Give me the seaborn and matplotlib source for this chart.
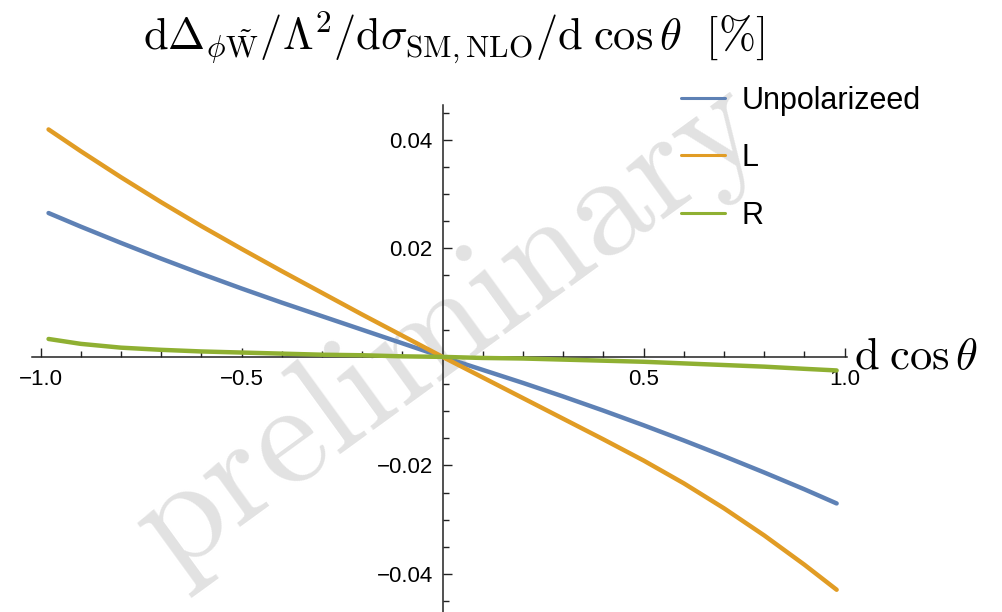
import numpy as np
import pandas as pd
import seaborn as sns
import matplotlib.pyplot as plt
from matplotlib.lines import Line2D
from matplotlib.ticker import FixedLocator, MultipleLocator

# values
cos_theta = [-0.98, -0.9, -0.8, -0.7, -0.6, -0.5, -0.4, -0.3, -0.2, -0.1, 0.0,
             0.1, 0.2, 0.3, 0.4, 0.5, 0.6, 0.7, 0.8, 0.9, 0.98]
unpolarized = [0.0265, 0.0240, 0.0210, 0.0181, 0.0153, 0.0126, 0.0100, 0.0075, 0.0050, 0.0025, 0.0,
               -0.0024, -0.0048, -0.0073, -0.0099, -0.0126, -0.0154, -0.0183, -0.0213, -0.0244, -0.0270]
pol_L = [0.0419, 0.0379, 0.0331, 0.0285, 0.0241, 0.0199, 0.0158, 0.0118, 0.0078, 0.0039, 0.0,
         -0.0038, -0.0076, -0.0114, -0.0152, -0.0191, -0.0233, -0.0279, -0.0329, -0.0383, -0.0429]
pol_R = [0.0033, 0.0024, 0.0017, 0.0013, 0.0010, 0.0008, 0.0006, 0.0004, 0.0003, 0.0001, 0.0,
         -0.0002, -0.0003, -0.0005, -0.0007, -0.0009, -0.0012, -0.0015, -0.0018, -0.0022, -0.0025]

series = ["Unpolarizeed", "L", "R"]
colors = {"Unpolarizeed": "#5E81B5", "L": "#E19C24", "R": "#8FB032"}

x_ticks = [-1.0, -0.5, 0.5, 1.0]
x_ticklabels = ["\u22121.0", "\u22120.5", "0.5", "1.0"]
y_ticks = [-0.04, -0.02, 0.02, 0.04]
y_ticklabels = ["\u22120.04", "\u22120.02", "0.02", "0.04"]

df = pd.DataFrame({
    "cos": cos_theta * 3,
    "val": unpolarized + pol_L + pol_R,
    "pol": [s for s in series for _ in cos_theta],
})

sns.set_theme(style="white")
plt.rcParams['font.family'] = ['Liberation Sans', 'DejaVu Sans']
plt.rcParams['mathtext.fontset'] = 'cm'
plt.rcParams['text.color'] = 'black'
plt.rcParams['xtick.labelcolor'] = 'black'
plt.rcParams['ytick.labelcolor'] = 'black'

fig = plt.figure(figsize=(10.02, 6.12), dpi=100)
ax = fig.add_axes([0.0316, 0.0, 0.8134, 0.8284])
ax.patch.set_alpha(0)

sns.lineplot(data=df, x="cos", y="val", hue="pol", hue_order=series, palette=colors,
             linewidth=3.2, legend=False, ax=ax, zorder=3)

ax.set_xlim(-1.022, 1.005)
ax.set_ylim(-0.047, 0.0464)

for side in ["top", "right"]:
    ax.spines[side].set_visible(False)
ax.spines["left"].set_position(("data", 0))
ax.spines["bottom"].set_position(("data", 0))
for side in ["left", "bottom"]:
    ax.spines[side].set_color("#222222")
    ax.spines[side].set_linewidth(1.1)

ax.xaxis.set_major_locator(FixedLocator(x_ticks))
ax.xaxis.set_minor_locator(MultipleLocator(0.1))
ax.set_xticklabels(x_ticklabels)
ax.yaxis.set_major_locator(FixedLocator(y_ticks))
ax.yaxis.set_minor_locator(MultipleLocator(0.005))
ax.set_yticklabels(y_ticklabels)
ax.tick_params(which="both", direction="in", color="#222222", width=1.0,
               bottom=True, left=True, labelsize=16)
ax.tick_params(which="major", length=6.5)
ax.tick_params(which="minor", length=4)
ax.tick_params(axis="x", pad=9)
ax.tick_params(axis="y", pad=7)
ax.set_xlabel("")
ax.set_ylabel("")

# watermark
ax.text(0.448, 0.46, r"$\mathrm{preliminary}$", transform=fig.transFigure, fontsize=106,
        color="#e2e2e2", rotation=36, ha="center", va="center", zorder=1, clip_on=False)

fig.text(0.453, 1 - 37 / 612,
         r"$\mathrm{d}\Delta_{\phi\tilde{\mathrm{W}}}/\Lambda^2/\mathrm{d}\sigma_{\mathrm{SM,NLO}}/\mathrm{d}\;\cos\theta\ \ [\%]$",
         fontsize=32, ha="center", va="center")
fig.text(0.852, 1 - 357 / 612, r"$\mathrm{d}\;\cos\theta$", fontsize=32, ha="left", va="center")

handles = [Line2D([], [], color=colors[s], linewidth=2.2) for s in series]
fig.legend(handles, series, loc="upper left", bbox_to_anchor=(0.664, 0.885), frameon=False,
           fontsize=22, handlelength=1.45, handletextpad=0.55, labelspacing=0.9, borderpad=0)

fig.savefig("out.png", dpi=100)
